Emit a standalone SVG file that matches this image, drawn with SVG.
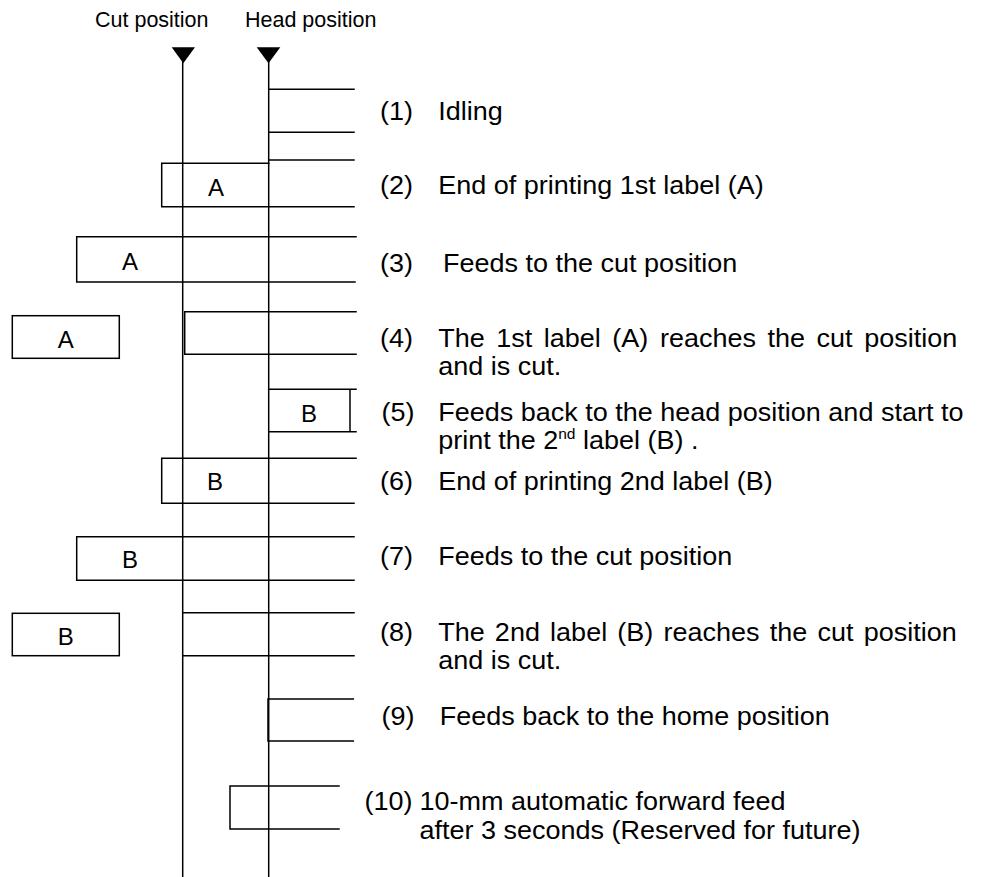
<svg xmlns="http://www.w3.org/2000/svg" width="983" height="877" viewBox="0 0 983 877">
<style>
  .ln{stroke:#000;stroke-width:1.5;fill:none;stroke-linecap:square}
  .hd{font-family:"Liberation Sans",Arial,sans-serif;font-size:21.5px;fill:#000}
  .tx{font-family:"Liberation Sans",Arial,sans-serif;font-size:26px;fill:#000}
  .lb{font-family:"Liberation Sans",Arial,sans-serif;font-size:24px;fill:#000;text-anchor:middle}
  .tri{fill:#000}
</style>
<rect width="983" height="877" fill="#fff"/>
<g id="connectors">
  <line class="ln" x1="182.7" y1="60" x2="182.7" y2="877"/>
  <line class="ln" x1="268.7" y1="60" x2="268.7" y2="877"/>
</g>
<g id="cut-position">
  <text class="hd" x="95" y="27.3">Cut position</text>
  <polygon class="tri" points="171.7,47.3 195,47.3 183.3,63.3"/>
</g>
<g id="head-position">
  <text class="hd" x="245" y="27.3">Head position</text>
  <polygon class="tri" points="256.7,47.3 280.3,47.3 268.5,63.3"/>
</g>
<g id="step-1">
  <path class="ln" d="M268.7,89.3H354M268.7,132.3H354"/>
  <text class="tx" transform="matrix(1.0385 0 0 1 -14.63 0)" x="380" y="120">(1)</text>
  <text class="tx" transform="matrix(1.0385 0 0 1 -14.63 0)" x="436" y="120">Idling</text>
</g>
<g id="step-2">
  <path class="ln" d="M268.7,160H354M268.7,163.3H161.7V206.7H354"/>
  <text class="lb" x="216" y="196">A</text>
  <text class="tx" transform="matrix(1.0385 0 0 1 -14.63 0)" x="380" y="194">(2)</text>
  <text class="tx" transform="matrix(1.0385 0 0 1 -14.63 0)" x="436" y="194">End of printing 1st label (A)</text>
</g>
<g id="step-3">
  <path class="ln" d="M356,236.7H76.7V282H355"/>
  <text class="lb" x="130" y="270">A</text>
  <text class="tx" transform="matrix(1.0385 0 0 1 -14.63 0)" x="380" y="272">(3)</text>
  <text class="tx" transform="matrix(1.0385 0 0 1 -14.63 0)" x="440.7" y="272">Feeds to the cut position</text>
</g>
<g id="step-4">
  <rect class="ln" x="12.3" y="315.7" width="107" height="42.6"/>
  <text class="lb" x="65.8" y="348.3">A</text>
  <path class="ln" d="M356,311.7H184.7V354.3H356"/>
  <text class="tx" transform="matrix(1.0385 0 0 1 -14.63 0)" x="380" y="347">(4)</text>
  <text class="tx" transform="matrix(1.0385 0 0 1 -14.63 0)" x="436" y="347" word-spacing="3.9">The 1st label (A) reaches the cut position</text>
  <text class="tx" transform="matrix(1.0385 0 0 1 -14.63 0)" x="436" y="375">and is cut.</text>
</g>
<g id="step-5">
  <path class="ln" d="M268.7,389.3H356M268.7,431.7H356M350,389.3V431.7"/>
  <text class="lb" x="309" y="421.7">B</text>
  <text class="tx" transform="matrix(1.0385 0 0 1 -14.63 0)" x="381.5" y="421">(5)</text>
  <text class="tx" transform="matrix(1.0385 0 0 1 -14.63 0)" x="436" y="421">Feeds back to the head position and start to</text>
  <text class="tx" transform="matrix(1.0385 0 0 1 -14.63 0)" x="436" y="449">print the 2<tspan font-size="15" dy="-10">nd</tspan><tspan dy="10"> label (B) .</tspan></text>
</g>
<g id="step-6">
  <path class="ln" d="M356,458.3H161.7V503.3H354"/>
  <text class="lb" x="215" y="490">B</text>
  <text class="tx" transform="matrix(1.0385 0 0 1 -14.63 0)" x="380" y="490">(6)</text>
  <text class="tx" transform="matrix(1.0385 0 0 1 -14.63 0)" x="436" y="490">End of printing 2nd label (B)</text>
</g>
<g id="step-7">
  <path class="ln" d="M354,536.7H76.7V580.3H354"/>
  <text class="lb" x="130" y="568.3">B</text>
  <text class="tx" transform="matrix(1.0385 0 0 1 -14.63 0)" x="380" y="565">(7)</text>
  <text class="tx" transform="matrix(1.0385 0 0 1 -14.63 0)" x="436" y="565">Feeds to the cut position</text>
</g>
<g id="step-8">
  <rect class="ln" x="12.3" y="613.3" width="107" height="42.4"/>
  <text class="lb" x="65.8" y="645">B</text>
  <path class="ln" d="M182.7,612.7H354M182.7,655.7H354"/>
  <text class="tx" transform="matrix(1.0385 0 0 1 -14.63 0)" x="380" y="641">(8)</text>
  <text class="tx" transform="matrix(1.0385 0 0 1 -14.63 0)" x="436" y="641" word-spacing="2.6">The 2nd label (B) reaches the cut position</text>
  <text class="tx" transform="matrix(1.0385 0 0 1 -14.63 0)" x="436" y="669">and is cut.</text>
</g>
<g id="step-9">
  <path class="ln" d="M353.3,699H268V741H353.3"/>
  <text class="tx" transform="matrix(1.0385 0 0 1 -14.63 0)" x="381.5" y="725">(9)</text>
  <text class="tx" transform="matrix(1.0385 0 0 1 -14.63 0)" x="437.5" y="725">Feeds back to the home position</text>
</g>
<g id="step-10">
  <path class="ln" d="M339,786H230V829H339"/>
  <text class="tx" transform="matrix(1.0385 0 0 1 -14.63 0)" x="365" y="810">(10)</text>
  <text class="tx" transform="matrix(1.0385 0 0 1 -14.63 0)" x="418" y="810">10-mm automatic forward feed</text>
  <text class="tx" transform="matrix(1.0385 0 0 1 -14.63 0)" x="418" y="839">after 3 seconds (Reserved for future)</text>
</g>
</svg>
